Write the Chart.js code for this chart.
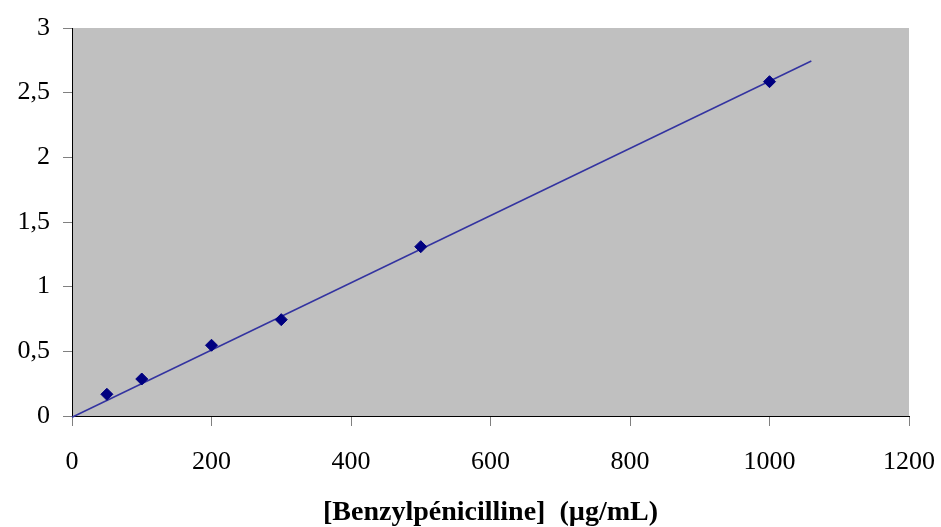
<!DOCTYPE html>
<html>
<head>
<meta charset="utf-8">
<script src="https://cdn.jsdelivr.net/npm/chart.js@4/dist/chart.umd.min.js"></script>
<style>
  html, body { margin: 0; padding: 0; background: #fff; }
  #wrap { width: 941px; height: 527px; }
</style>
</head>
<body>
<div id="wrap"><canvas id="myChart"></canvas></div>
<script>
// measured points
const concentrations = [50, 100, 200, 300, 500, 1000];
const absorbances = [0.168, 0.286, 0.547, 0.745, 1.309, 2.585];
// trendline ends as seen on the picture
const trendX = [0, 1060];
const trendY = [-0.01, 2.745];
const xTitle = "[Benzylpénicilline]  (µg/mL)";

const plotBg = {
    id: "plotBg",
    beforeDraw(chart) {
        const { ctx, chartArea: a } = chart;
        ctx.save();
        ctx.fillStyle = "#c0c0c0";
        ctx.fillRect(a.left, a.top, a.right - a.left, a.bottom - a.top);
        ctx.restore();
    }
};

const ctx = document.getElementById("myChart").getContext("2d");

const chart = new Chart(ctx, {
    type: "scatter",
    data: {
        datasets: [{
            label: "Points",
            data: concentrations.map((x, i) => ({ x: x, y: absorbances[i] })),
            pointStyle: "rectRot",
            pointRadius: 6,
            backgroundColor: "#000080",
            borderColor: "#000080",
            borderWidth: 1,
            order: 1
        }, {
            label: "Trend",
            type: "line",
            data: trendX.map((x, i) => ({ x: x, y: trendY[i] })),
            borderColor: "#3333a0",
            borderWidth: 1.5,
            pointRadius: 0,
            fill: false,
            clip: 3,
            order: 2
        }]
    },
    options: {
        responsive: true,
        maintainAspectRatio: false,
        animation: false,
        layout: { padding: { top: 28, right: 32, left: 0, bottom: 0 } },
        plugins: {
            legend: { display: false },
            tooltip: { enabled: false }
        },
        scales: {
            x: {
                type: "linear",
                min: 0,
                max: 1200,
                ticks: {
                    stepSize: 200,
                    color: "#000",
                    padding: 21,
                    font: { family: "Liberation Serif", size: 26 },
                    callback: v => String(v)
                },
                grid: { drawOnChartArea: false, drawTicks: true, tickLength: 10, color: "#808080" },
                border: { color: "#000", width: 1 },
                title: {
                    display: true,
                    text: xTitle,
                    color: "#000",
                    font: { family: "Liberation Serif", size: 28, weight: "bold" },
                    padding: { top: 0, bottom: -3 }
                },
                afterFit(scale) {
                    scale.height = 111;
                    scale.paddingLeft = 0;
                    scale.paddingRight = 0;
                }
            },
            y: {
                min: 0,
                max: 3,
                ticks: {
                    stepSize: 0.5,
                    color: "#000",
                    padding: 13,
                    font: { family: "Liberation Serif", size: 26 },
                    callback: v => String(v).replace(".", ",")
                },
                grid: { drawOnChartArea: false, drawTicks: true, tickLength: 9, color: "#808080" },
                border: { color: "#000", width: 1 },
                afterFit(scale) {
                    scale.width = 72;
                    scale.paddingTop = 0;
                    scale.paddingBottom = 0;
                }
            }
        }
    },
    plugins: [plotBg]
});
</script>
</body>
</html>
